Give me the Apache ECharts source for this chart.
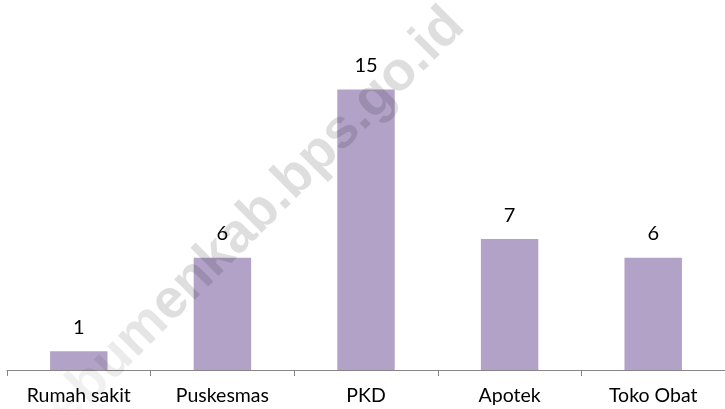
<!DOCTYPE html>
<html>
<head>
<meta charset="utf-8">
<script src="https://cdn.jsdelivr.net/npm/echarts@6/dist/echarts.min.js"></script>
<style>
html,body{margin:0;padding:0;background:#fff;}
#chart{width:725px;height:409px;}
</style>
</head>
<body>
<div id="chart"></div>
<script>
const categories = ["Rumah sakit", "Puskesmas", "PKD", "Apotek", "Toko Obat"];
const values = [1, 6, 15, 7, 6];
const watermarkParts = ["k", "e", "b", "u", "m", "enkab.bps.go.id"];

const fades = [0.0, 0.03, 0.06, 0.08, 0.10, 0.13];
const rich = {};
let wmText = '';
watermarkParts.forEach(function (p, i) {
  rich['w' + i] = {
    fill: 'rgba(0,0,0,' + fades[i] + ')',
    fontFamily: 'Liberation Sans',
    fontWeight: 'bold',
    fontSize: 55
  };
  wmText += '{w' + i + '|' + p + '}';
});

const chart = echarts.init(document.getElementById('chart'), null, {renderer: 'canvas'});
chart.setOption({
  animation: false,
  backgroundColor: '#ffffff',
  grid: {left: 7, width: 722.5, top: 33.4, bottom: 39, containLabel: false},
  xAxis: {
    type: 'category',
    data: categories,
    axisLine: {show: true, lineStyle: {color: '#868686', width: 1}},
    axisTick: {show: true, length: 6, lineStyle: {color: '#868686'}},
    axisLabel: {color: '#000', fontFamily: 'Lato', fontSize: 19.5, margin: 16, interval: 0}
  },
  yAxis: {
    type: 'value', min: 0, max: 18, show: false,
    splitLine: {show: false}
  },
  series: [{
    type: 'bar',
    data: values,
    barWidth: '40%',
    itemStyle: {color: '#B3A2C7'},
    label: {show: true, position: 'top', distance: 14, color: '#000', fontFamily: 'Lato', fontSize: 20}
  }],
  graphic: [{
    type: 'text',
    z: 100,
    x: 245, y: 228,
    rotation: 45 * Math.PI / 180,
    style: {
      text: wmText,
      rich: rich,
      fontFamily: 'Liberation Sans',
      fontWeight: 'bold',
      fontSize: 55,
      align: 'center',
      verticalAlign: 'middle'
    }
  }]
});
</script>
</body>
</html>
